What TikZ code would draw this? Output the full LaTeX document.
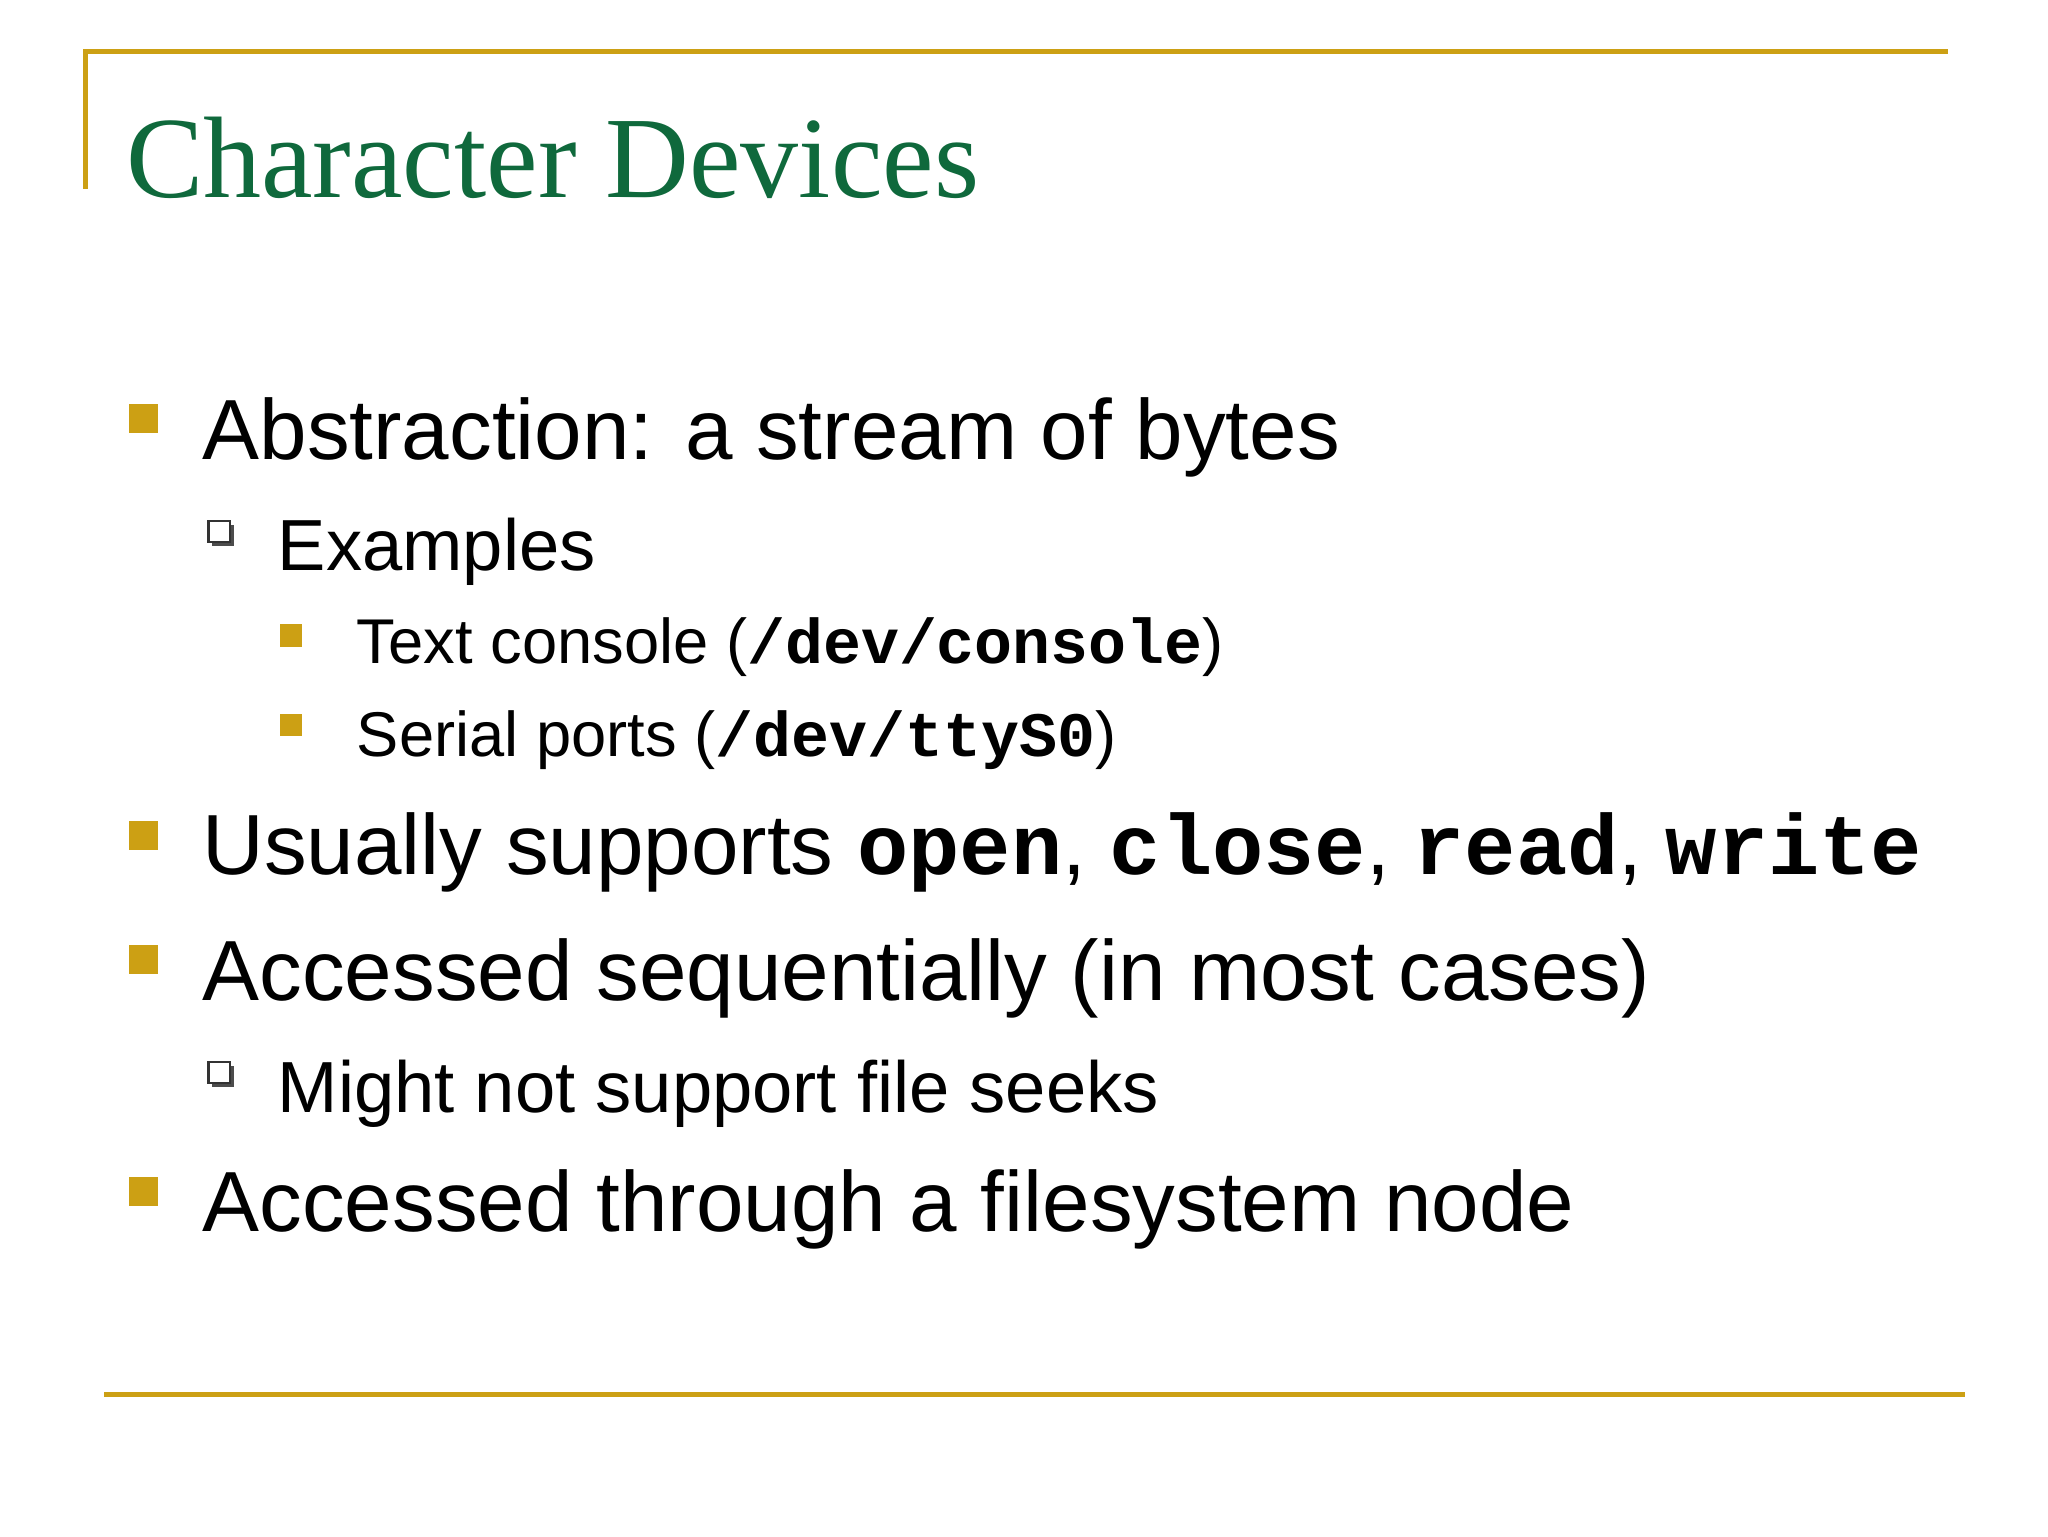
\documentclass[tikz,border=0pt]{standalone}
\usepackage{fontspec}
\setmainfont{Liberation Sans}
\setmonofont{Liberation Mono}
\newfontfamily\titlefont{Liberation Serif}
\definecolor{gold}{RGB}{204,160,20}
\definecolor{ttlgreen}{RGB}{15,105,60}
\tikzset{
  lone/.style={anchor=base west,inner sep=0pt,font=\fontsize{24.3}{30}\selectfont},
  ltwo/.style={anchor=base west,inner sep=0pt,font=\fontsize{20.6}{25}\selectfont},
  lthree/.style={anchor=base west,inner sep=0pt,font=\fontsize{18}{22}\selectfont},
}
\newcommand{\bA}[1]{\fill[gold] #1 rectangle ++(22,22);}
\newcommand{\bC}[1]{\fill[gold] #1 rectangle ++(17,17);}
\newcommand{\bB}[1]{\fill[black!70] #1 ++(3,3) rectangle ++(16,16);\filldraw[fill=white,draw=black!80,line width=0.6pt] #1 rectangle ++(16,16);}
\begin{document}
\begin{tikzpicture}[x=0.0132cm,y=-0.0132cm]
\useasboundingbox (0,0) rectangle (1552,1164);
\fill[white] (0,0) rectangle (1552,1164);
\draw[gold,line width=1.5pt] (65,143) -- (65,39) -- (1476,39);
\draw[gold,line width=1.5pt] (79,1057) -- (1489,1057);
\node[anchor=base west,inner sep=0pt,text=ttlgreen,font=\titlefont\fontsize{33}{38}\selectfont] (title) at (95,150) {Character Devices};
\bA{(98,306)} \node[lone] (a) at (153,348) {Abstraction: a stream of bytes};
\bB{(158,395)} \node[ltwo] (b) at (210,432) {Examples};
\bC{(212,473)} \node[lthree] (c) at (270,503) {Text console (\textbf{\ttfamily /dev/console})};
\bC{(212,541)} \node[lthree] (d) at (270,573) {Serial ports (\textbf{\ttfamily /dev/ttyS0})};
\bA{(98,622)} \node[lone] (e) at (153,663) {Usually supports \textbf{\ttfamily open}, \textbf{\ttfamily close}, \textbf{\ttfamily read}, \textbf{\ttfamily write}};
\bA{(98,716)} \node[lone] (f) at (153,758) {Accessed sequentially (in most cases)};
\bB{(158,805)} \node[ltwo] (g) at (210,843) {Might not support file seeks};
\bA{(98,892)} \node[lone] (h) at (153,933) {Accessed through a filesystem node};
\end{tikzpicture}
\end{document}
